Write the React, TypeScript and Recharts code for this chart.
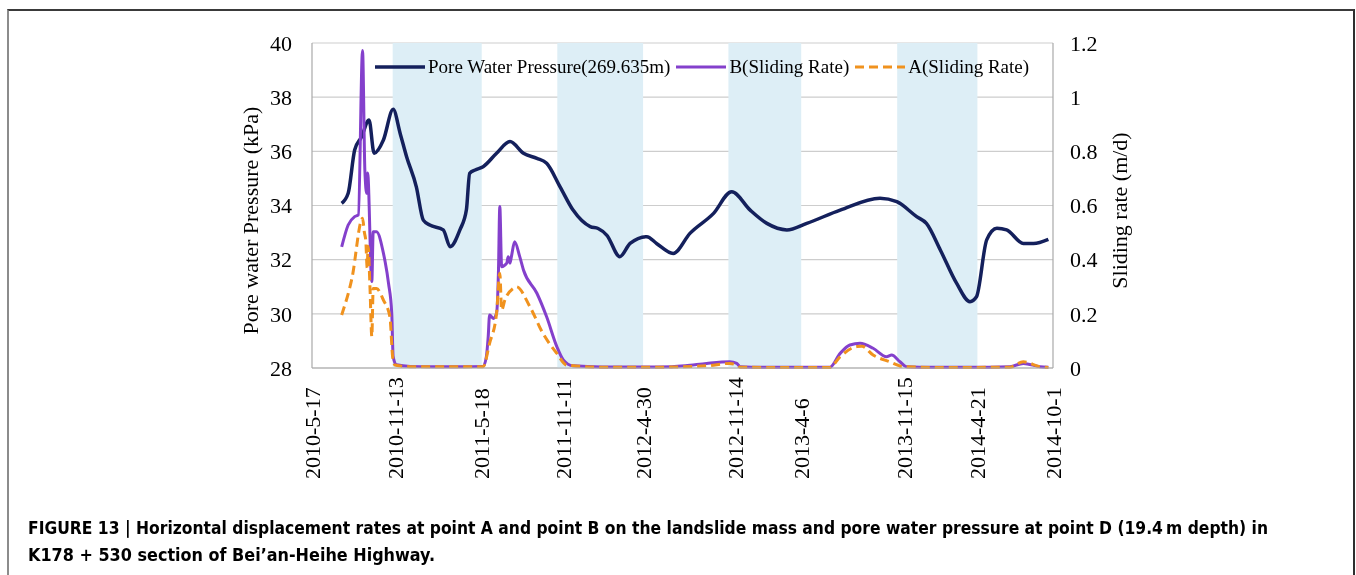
import React from 'react';
import { LineChart, Line, XAxis, YAxis, CartesianGrid, ReferenceArea, Label } from 'recharts';

// ---- data -------------------------------------------------------------

const dateTicks = [
  '2010-5-17', '2010-11-13', '2011-5-18', '2011-11-11', '2012-4-30',
  '2012-11-14', '2013-4-6', '2013-11-15', '2014-4-21', '2014-10-1',
];
const pressureTicks = [28, 30, 32, 34, 36, 38, 40];
const rateTicks = [0, 0.2, 0.4, 0.6, 0.8, 1, 1.2];

// freezing seasons (shaded)
const winterBands: [string, string][] = [
  ['2010-11-07', '2011-05-18'],
  ['2011-10-28', '2012-04-30'],
  ['2012-10-31', '2013-04-06'],
  ['2013-10-30', '2014-04-21'],
];

// pore water pressure at point D, kPa
const porePressure: [string, number][] = [
  ['2010-07-20', 34.08], ['2010-08-03', 34.45], ['2010-08-17', 36.05], ['2010-09-01', 36.54],
  ['2010-09-17', 37.16], ['2010-09-28', 35.93], ['2010-10-18', 36.42], ['2010-11-08', 37.55],
  ['2010-11-23', 36.67], ['2010-12-07', 35.8], ['2010-12-28', 34.69], ['2011-01-12', 33.46],
  ['2011-01-26', 33.28], ['2011-02-24', 33.1], ['2011-03-11', 32.48], ['2011-04-01', 33.1],
  ['2011-04-15', 33.84], ['2011-04-22', 35.19], ['2011-05-04', 35.31], ['2011-05-21', 35.43],
  ['2011-06-19', 35.93], ['2011-07-18', 36.36], ['2011-08-16', 35.93], ['2011-09-14', 35.74],
  ['2011-10-05', 35.56], ['2011-11-03', 34.69], ['2011-12-01', 33.83], ['2012-01-07', 33.22],
  ['2012-01-24', 33.15], ['2012-02-12', 32.9], ['2012-03-11', 32.11], ['2012-04-02', 32.6],
  ['2012-05-08', 32.85], ['2012-05-29', 32.6], ['2012-07-04', 32.23], ['2012-08-09', 32.97],
  ['2012-09-29', 33.71], ['2012-11-07', 34.51], ['2012-12-17', 33.83], ['2013-01-22', 33.34],
  ['2013-03-06', 33.1], ['2013-04-18', 33.34], ['2013-06-29', 33.83], ['2013-09-23', 34.27],
  ['2013-10-29', 34.14], ['2013-12-11', 33.59], ['2014-01-01', 33.34], ['2014-01-31', 32.36],
  ['2014-03-07', 31.13], ['2014-04-05', 30.45], ['2014-04-19', 30.63], ['2014-05-11', 32.73],
  ['2014-06-02', 33.16], ['2014-06-23', 33.1], ['2014-07-29', 32.6], ['2014-08-20', 32.6],
  ['2014-09-21', 32.75],
];

// sliding rate at point B, m/d
const slidingRateB: [string, number][] = [
  ['2010-07-20', 0.447], ['2010-08-03', 0.528], ['2010-08-17', 0.559], ['2010-08-25', 0.565],
  ['2010-09-03', 1.172], ['2010-09-08', 0.73], ['2010-09-12', 0.645], ['2010-09-14', 0.72],
  ['2010-09-23', 0.319], ['2010-09-26', 0.503], ['2010-10-03', 0.503], ['2010-10-18', 0.424],
  ['2010-10-29', 0.313], ['2010-11-05', 0.202], ['2010-11-08', 0.042], ['2010-11-15', 0.012],
  ['2010-12-15', 0.006], ['2011-02-01', 0.005], ['2011-04-01', 0.005], ['2011-05-21', 0.006],
  ['2011-05-28', 0.042], ['2011-06-01', 0.116], ['2011-06-04', 0.196], ['2011-06-12', 0.183],
  ['2011-06-19', 0.202], ['2011-06-23', 0.35], ['2011-06-26', 0.596], ['2011-06-30', 0.374],
  ['2011-07-11', 0.387], ['2011-07-14', 0.411], ['2011-07-18', 0.387], ['2011-07-21', 0.411],
  ['2011-07-28', 0.466], ['2011-08-08', 0.411], ['2011-08-16', 0.362], ['2011-09-14', 0.276],
  ['2011-10-05', 0.189], ['2011-10-27', 0.079], ['2011-11-10', 0.03], ['2011-12-01', 0.008],
  ['2012-02-01', 0.004], ['2012-05-01', 0.004], ['2012-07-01', 0.005], ['2012-07-30', 0.008],
  ['2012-09-14', 0.017], ['2012-11-03', 0.023], ['2012-11-18', 0.017], ['2012-11-25', 0.005],
  ['2013-01-15', 0.003], ['2013-04-01', 0.003], ['2013-06-07', 0.003], ['2013-06-29', 0.054],
  ['2013-07-20', 0.085], ['2013-08-11', 0.091], ['2013-09-08', 0.073], ['2013-10-07', 0.042],
  ['2013-10-18', 0.048], ['2013-11-05', 0.023], ['2013-11-19', 0.005], ['2014-01-15', 0.003],
  ['2014-04-01', 0.003], ['2014-06-30', 0.005], ['2014-07-29', 0.017], ['2014-09-03', 0.005],
  ['2014-09-21', 0.003],
];

// sliding rate at point A, m/d
const slidingRateA: [string, number][] = [
  ['2010-07-20', 0.196], ['2010-08-11', 0.33], ['2010-09-03', 0.553], ['2010-09-07', 0.5],
  ['2010-09-10', 0.47], ['2010-09-13', 0.37], ['2010-09-15', 0.45], ['2010-09-19', 0.3],
  ['2010-09-23', 0.116], ['2010-09-26', 0.294], ['2010-10-03', 0.294], ['2010-10-18', 0.251],
  ['2010-11-01', 0.189], ['2010-11-07', 0.04], ['2010-11-12', 0.011], ['2010-12-15', 0.005],
  ['2011-03-01', 0.005], ['2011-05-21', 0.005], ['2011-06-04', 0.091], ['2011-06-19', 0.202],
  ['2011-06-26', 0.35], ['2011-06-30', 0.214], ['2011-07-07', 0.251], ['2011-07-25', 0.294],
  ['2011-08-01', 0.3], ['2011-08-30', 0.226], ['2011-09-27', 0.128], ['2011-10-27', 0.054],
  ['2011-11-17', 0.011], ['2012-02-01', 0.003], ['2012-06-01', 0.003], ['2012-09-14', 0.008],
  ['2012-11-03', 0.017], ['2012-11-18', 0.01], ['2012-11-25', 0.003], ['2013-03-01', 0.002],
  ['2013-06-07', 0.002], ['2013-06-29', 0.042], ['2013-08-04', 0.079], ['2013-08-15', 0.08],
  ['2013-09-08', 0.048], ['2013-10-14', 0.023], ['2013-11-12', 0.005], ['2014-02-01', 0.002],
  ['2014-06-30', 0.003], ['2014-07-29', 0.023], ['2014-09-03', 0.005], ['2014-09-21', 0.002],
];

const captionLines = [
  'FIGURE 13 | Horizontal displacement rates at point A and point B on the landslide mass and pore water pressure at point D (19.4\u2009m depth) in',
  'K178 + 530 section of Bei\u2019an-Heihe Highway.',
];

// ---- helpers & styles ---------------------------------------------------

const dayOf = (s: string) => {
  const [y, m, d] = s.split('-').map(Number);
  return Date.UTC(y, m - 1, d) / 86400000;
};
const toPoints = (rows: [string, number][]) => rows.map(([d, v]) => ({ t: dayOf(d), v }));

const tickDays = dateTicks.map(dayOf);
const labelByDay = new Map(dateTicks.map((s) => [dayOf(s), s]));

const SERIF = '"Liberation Serif", "Times New Roman", serif';
const CAPTION_FONT = '"Liberation Sans Narrow", "DejaVu Sans Condensed", "Liberation Sans", Arial, sans-serif';
const AXIS_GREY = '#a9a9a9';
const GRID_GREY = '#cdcdcd';
const BAND_BLUE = '#ddeef6';

const series = [
  { id: 'pore', name: 'Pore Water Pressure(269.635m)', rows: porePressure, axis: 'left', color: '#14205c', width: 3.5, dash: undefined as string | undefined },
  { id: 'b', name: 'B(Sliding Rate)', rows: slidingRateB, axis: 'right', color: '#8440cc', width: 3, dash: undefined as string | undefined },
  { id: 'a', name: 'A(Sliding Rate)', rows: slidingRateA, axis: 'right', color: '#f0921e', width: 3, dash: '9 5' },
];

const DateTick = (props: any) => {
  const { x, y, payload } = props;
  return (
    <text
      transform={`translate(${x},${y + 111}) rotate(-90)`}
      dy="0.35em"
      textAnchor="start"
      fontFamily={SERIF}
      fontSize={22}
      fill="#000"
    >
      {labelByDay.get(payload.value) ?? ''}
    </text>
  );
};

const AxisTitle = ({ viewBox, text, dx, dy }: any) => {
  const cx = viewBox.x + dx;
  const cy = viewBox.y + viewBox.height / 2 + dy;
  return (
    <text
      x={cx}
      y={cy}
      transform={`rotate(-90, ${cx}, ${cy})`}
      textAnchor="middle"
      dominantBaseline="central"
      fontFamily={SERIF}
      fontSize={22}
      fill="#000"
    >
      {text}
    </text>
  );
};

const LegendRow = () => (
  <div
    style={{
      position: 'absolute',
      left: 367,
      top: 48,
      display: 'flex',
      alignItems: 'center',
      fontFamily: SERIF,
      fontSize: 19,
      whiteSpace: 'nowrap',
      color: '#000',
    }}
  >
    {series.map((s) => (
      <div key={s.id} style={{ display: 'flex', alignItems: 'center', marginRight: 6 }}>
        <svg width={50} height={10}>
          <line x1={0} y1={5} x2={50} y2={5} stroke={s.color} strokeWidth={s.width} strokeDasharray={s.dash} />
        </svg>
        <span style={{ marginLeft: 3 }}>{s.name}</span>
      </div>
    ))}
  </div>
);

export default function App() {
  return (
    <div style={{ position: 'relative', width: 1340, height: 559 }}>
      <div
        style={{
          position: 'fixed',
          left: 7,
          top: 9,
          width: 1348,
          height: 600,
          boxSizing: 'border-box',
          borderTop: '2px solid #3a3a3a',
          borderLeft: '2px solid #8c8c8c',
          borderRight: '2px solid #2e2e2e',
          pointerEvents: 'none',
        }}
      />
      <LineChart width={1340} height={480} margin={{ top: 35, right: 235, bottom: 10, left: 244 }}>
        <XAxis
          type="number"
          dataKey="t"
          domain={[tickDays[0], tickDays[tickDays.length - 1]]}
          ticks={tickDays}
          interval={0}
          allowDataOverflow
          height={110}
          tick={<DateTick />}
          tickLine={false}
          tickSize={0}
          tickMargin={0}
          axisLine={{ stroke: AXIS_GREY, strokeWidth: 1.2 }}
        />
        <YAxis
          yAxisId="left"
          domain={[28, 40]}
          ticks={pressureTicks}
          interval={0}
          width={60}
          tickLine={false}
          tickSize={0}
          tickMargin={20}
          axisLine={{ stroke: AXIS_GREY, strokeWidth: 1.2 }}
          tick={{ fontFamily: SERIF, fontSize: 22, fill: '#000' }}
        >
          <Label content={(p: any) => <AxisTitle viewBox={p.viewBox} text="Pore water Pressure (kPa)" dx={-2} dy={15} />} />
        </YAxis>
        <YAxis
          yAxisId="right"
          orientation="right"
          domain={[0, 1.2]}
          ticks={rateTicks}
          interval={0}
          width={60}
          tickLine={false}
          tickSize={0}
          tickMargin={17}
          axisLine={{ stroke: AXIS_GREY, strokeWidth: 1.2 }}
          tickFormatter={(v: number) => String(v)}
          tick={{ fontFamily: SERIF, fontSize: 22, fill: '#000', textAnchor: 'start' }}
        >
          <Label content={(p: any) => <AxisTitle viewBox={p.viewBox} text="Sliding rate (m/d)" dx={66} dy={5} />} />
        </YAxis>
        {winterBands.map(([from, to]) => (
          <ReferenceArea
            key={from}
            yAxisId="left"
            x1={dayOf(from)}
            x2={dayOf(to)}
            fill={BAND_BLUE}
            fillOpacity={1}
            stroke="none"
            ifOverflow="hidden"
          />
        ))}
        <CartesianGrid yAxisId="left" vertical={false} stroke={GRID_GREY} strokeWidth={1.2} />
        {series.map((s) => (
          <Line
            key={s.id}
            data={toPoints(s.rows)}
            dataKey="v"
            name={s.name}
            yAxisId={s.axis}
            type="monotone"
            stroke={s.color}
            strokeWidth={s.width}
            strokeDasharray={s.dash}
            strokeLinejoin="round"
            dot={false}
            activeDot={false}
            isAnimationActive={false}
          />
        ))}
      </LineChart>
      <LegendRow />
      <svg style={{ position: 'absolute', left: 0, top: 500 }} width={1340} height={59}>
        <text x={20} y={26} fontFamily={CAPTION_FONT} fontWeight="bold" fontSize={18} fill="#000" textLength={1240} lengthAdjust="spacingAndGlyphs">
          {captionLines[0]}
        </text>
        <text x={20} y={53} fontFamily={CAPTION_FONT} fontWeight="bold" fontSize={18} fill="#000" textLength={407} lengthAdjust="spacingAndGlyphs">
          {captionLines[1]}
        </text>
      </svg>
    </div>
  );
}
